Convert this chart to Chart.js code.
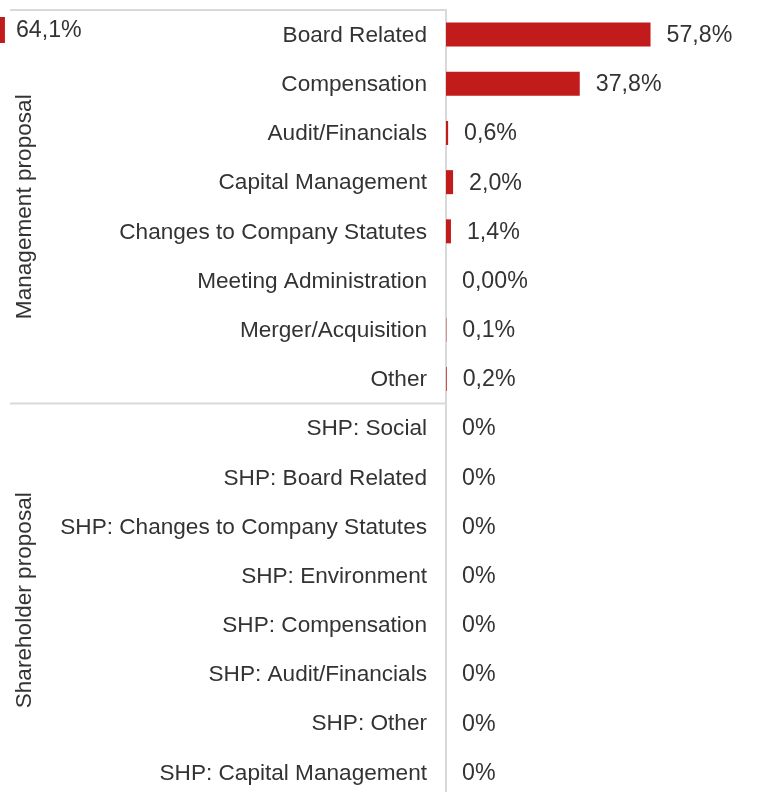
<!DOCTYPE html>
<html>
<head>
<meta charset="utf-8">
<script src="https://cdn.jsdelivr.net/npm/chart.js@4"></script>
<style>
  html, body { margin: 0; padding: 0; background: #fff; overflow: hidden; width: 762px; height: 792px; }
  #main { position: absolute; left: 0; top: 0; }
  #total { position: absolute; left: -300px; top: 0; }
</style>
</head>
<body>
<canvas id="main" width="762" height="800"></canvas>
<canvas id="total" width="400" height="60"></canvas>
<script>
const categories = [
  'Board Related', 'Compensation', 'Audit/Financials', 'Capital Management',
  'Changes to Company Statutes', 'Meeting Administration', 'Merger/Acquisition', 'Other',
  'SHP: Social', 'SHP: Board Related', 'SHP: Changes to Company Statutes', 'SHP: Environment',
  'SHP: Compensation', 'SHP: Audit/Financials', 'SHP: Other', 'SHP: Capital Management'
];
const shares = [57.8, 37.8, 0.6, 2.0, 1.4, 0, 0.1, 0.2, 0, 0, 0, 0, 0, 0, 0, 0];
const shareLabels = ['57,8%', '37,8%', '0,6%', '2,0%', '1,4%', '0,00%', '0,1%', '0,2%',
  '0%', '0%', '0%', '0%', '0%', '0%', '0%', '0%'];
const groups = ['Management proposal', 'Shareholder proposal'];
const groupSizes = [8, 8];
const groupTotals = [64.1];
const groupTotalLabels = ['64,1%'];

const RED = '#c21b1b';
const TEXT = '#333333';
const LINE = '#d9d9d9';
const FONT = "'Liberation Sans', Arial, sans-serif";

Chart.defaults.font.family = FONT;
Chart.defaults.color = TEXT;

// value labels to the right of each bar
const barLabels = {
  id: 'barLabels',
  afterDatasetsDraw(chart, args, opts) {
    const ctx = chart.ctx;
    const meta = chart.getDatasetMeta(0);
    ctx.save();
    ctx.font = '23.2px ' + FONT;
    ctx.fillStyle = TEXT;
    ctx.textAlign = 'left';
    ctx.textBaseline = 'middle';
    meta.data.forEach((bar, i) => {
      ctx.fillText(opts.labels[i], bar.x + opts.gap, bar.y + 1);
    });
    ctx.restore();
  }
};

// group frame lines and rotated group titles
const groupFrame = {
  id: 'groupFrame',
  afterDraw(chart) {
    const ctx = chart.ctx;
    const y = chart.scales.y;
    const left = 10;
    const right = chart.chartArea.left;
    ctx.save();
    ctx.strokeStyle = LINE;
    ctx.lineWidth = 2;
    let start = 0;
    groups.forEach((g, gi) => {
      const end = start + groupSizes[gi] - 1;
      const top = gi === 0 ? chart.chartArea.top
        : (y.getPixelForValue(start - 1) + y.getPixelForValue(start)) / 2;
      const bottom = end === categories.length - 1 ? chart.chartArea.bottom
        : (y.getPixelForValue(end) + y.getPixelForValue(end + 1)) / 2;
      ctx.beginPath();
      ctx.moveTo(left, top);
      ctx.lineTo(right + 1, top);
      ctx.stroke();
      ctx.save();
      ctx.translate(25, (top + bottom) / 2);
      ctx.rotate(-Math.PI / 2);
      ctx.font = '22.6px ' + FONT;
      ctx.fillStyle = TEXT;
      ctx.textAlign = 'center';
      ctx.textBaseline = 'middle';
      ctx.fillText(g, 0, 0);
      ctx.restore();
      start = end + 1;
    });
    ctx.restore();
  }
};

new Chart(document.getElementById('main'), {
  type: 'bar',
  data: {
    labels: categories,
    datasets: [{
      data: shares,
      backgroundColor: RED,
      barThickness: 24,
      borderWidth: 0,
      inflateAmount: 0
    }]
  },
  options: {
    indexAxis: 'y',
    responsive: false,
    animation: false,
    layout: { padding: { left: 0, right: 0, top: 10, bottom: 3 } },
    scales: {
      x: { display: false, min: 0, max: 89.3 },
      y: {
        afterFit(scale) {
          scale.width = 446;
          scale.paddingTop = 0;
          scale.paddingBottom = 0;
        },
        grid: { display: false, drawTicks: false },
        border: { display: true, color: LINE, width: 2 },
        ticks: { padding: 19, labelOffset: 1, color: TEXT, font: { size: 22.6 } }
      }
    },
    plugins: {
      legend: { display: false },
      tooltip: { enabled: false },
      barLabels: { labels: shareLabels, gap: 16 }
    }
  },
  plugins: [barLabels, groupFrame]
});

// neighbouring total bar, cut off at the left edge
new Chart(document.getElementById('total'), {
  type: 'bar',
  data: {
    labels: [groups[0]],
    datasets: [{
      data: groupTotals,
      backgroundColor: RED,
      barThickness: 26,
      borderWidth: 0,
      inflateAmount: 0
    }]
  },
  options: {
    indexAxis: 'y',
    responsive: false,
    animation: false,
    layout: { padding: { left: 0, right: 67, top: 0, bottom: 0 } },
    scales: {
      x: { display: false, min: 0, max: 70 },
      y: { display: false }
    },
    plugins: {
      legend: { display: false },
      tooltip: { enabled: false },
      barLabels: { labels: groupTotalLabels, gap: 11 }
    }
  },
  plugins: [barLabels]
});
</script>
</body>
</html>
